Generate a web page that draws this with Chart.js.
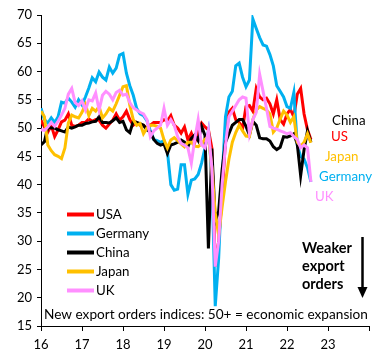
<!DOCTYPE html>
<html><head><meta charset="utf-8">
<script src="https://cdn.jsdelivr.net/npm/chart.js@4.4.0/dist/chart.umd.min.js"></script>
<style>html,body{margin:0;padding:0;background:#fff;}canvas{display:block}</style>
</head><body>
<canvas id="c" width="384" height="360"></canvas>
<script>
// Monthly new export orders indices, Jan 2016 .. Aug 2022
const startYear = 16;
const xTickValues = [16, 17, 18, 19, 20, 21, 22, 23, 24];
const yTickValues = [15, 20, 25, 30, 35, 40, 45, 50, 55, 60, 65, 70];

const usa = [51.4,50.2,49.3,50.5,48.5,49.7,51.1,51.4,52.5,50.5,50.3,50.5,
  51,51,51.6,51.2,51.5,51.4,50.5,50,50.7,51.4,52.5,51.4,
  52,53,51.5,50.5,51,50.5,50.5,50,50.5,51,51,51,
  51.5,51.3,52.2,50.5,50,49.1,50.2,47.9,49.1,47.5,49.5,50.9,
  50.2,49.7,46.5,25.5,30,38,48,52.8,53.5,51.5,51,50,
  53.8,54,53,57,55.5,55,55.3,54.3,52.5,55,51.5,50.7,
  52.5,53.3,52,56,57,52.5,49.7,48];
const germany = [53.5,51.5,50.9,51.8,51,52,54.6,54.4,55.3,54.6,53.7,55,
  54.1,55.5,57.1,58.9,58.2,59.9,59,58.5,60.8,59.7,60.6,62.9,
  63.2,59.7,57.5,55.8,53.5,52.5,52.2,51.3,49.5,48,47.8,47.5,
  47.8,45.8,40,39,39.2,43.5,43.5,38.3,40.8,41,41.8,43.8,
  46.5,49.5,42,18.5,27,41,52,55.5,56.5,61,61.5,59,
  57.3,58.5,69.3,67.6,66,64.7,64.5,63,61,57.5,
  56.5,55.5,53.8,53.5,56.3,47,45,44.5,43,40.5];
const china = [47,47.6,50.2,50,50,49.7,49.5,49.3,50.2,50,50.2,50.5,
  50.5,50.8,50.9,51.1,51.2,52,51,51,50.9,51.3,51.8,51,
  51.2,49.7,49.2,51.2,51,50.8,50.5,49.7,49.3,48,47.3,47,
  47.2,45.5,47,47.2,47.5,47.9,47.5,46.7,48.2,48.8,47.8,50.3,
  48.7,28.7,46.4,33.5,35.3,42.6,47.5,49,50.5,51,51.5,51.5,
  50.3,48.8,51.2,50.5,48.3,48.1,48.1,47.7,46.7,46.2,46.6,48.5,
  48.4,48.6,49,47.2,41.6,46.2,49.5,47.5];
const japan = [53,52,47,46,45.3,45,44.6,46.5,50.9,52.3,52,51.8,
  52.8,54.2,52.2,53.5,53,53.8,51.8,52.5,53.5,53,54.3,55.8,
  57.3,57.5,54,51.5,50.5,50.8,49,50,50.5,50.5,50.3,50,
  47.9,46.5,47.9,48.3,47.8,47.2,46.7,47.5,47.5,46.8,46.7,47.2,
  48,48.5,43,35,31,36,40.5,44.5,47.5,49.2,50.5,49.5,
  48.6,48.5,51.5,53.2,53.8,53.5,53.2,52.5,49.3,50,51.6,53,
  52.3,51,52,47.5,46.8,47.5,49,47.4];
const uk = [49.7,49.6,50.2,51,50.3,51.2,52.3,53.5,56,57,54.5,54,
  54.8,53.2,55,54.8,56.2,53.2,55.8,56.5,56,55,56.3,56.7,
  55.8,56,54.5,53.6,53.2,52.8,52.5,51.5,48.5,49.5,50,50.5,
  53.5,50.5,51.5,50.5,48.5,47.3,47,46.5,43.8,48,51.5,47,
  46.5,49.5,43,25.5,30,40,47,52,53,54,55,55.5,
  55.3,49,51.5,52.8,59.5,56.5,53.5,50.3,50,49.8,49.5,49.3,
  49,49.2,48.5,48,46.5,47,46.5,40.5];

const legendNames = ['USA', 'Germany', 'China', 'Japan', 'UK'];
const endLabels = ['China', 'US', 'Japan', 'Germany', 'UK'];
const noteText = 'New export orders indices: 50+ = economic expansion';
const arrowText = ['Weaker', 'export', 'orders'];

const COLORS = {USA:'#FF0000', Germany:'#00B0F0', China:'#000000', Japan:'#FFC000', UK:'#FF8FFF'};
const FONT = 'Lato, "Open Sans", sans-serif';

function toPoints(arr){ return arr.map((v,i)=>({x: startYear + i/12, y: v})); }

const series = [usa, germany, china, japan, uk];
const datasets = series.map((arr, i) => ({
  label: legendNames[i],
  data: toPoints(arr),
  borderColor: COLORS[legendNames[i]],
  backgroundColor: COLORS[legendNames[i]],
  borderWidth: 3,
  pointRadius: 0,
  tension: 0,
  fill: false,
  order: 5 - i
}));

const annot = {
  id: 'annot',
  afterDraw(chart){
    const ctx = chart.ctx, a = chart.chartArea;
    ctx.save();
    // legend
    ctx.font = '13.3px ' + FONT;
    ctx.textBaseline = 'middle';
    ctx.textAlign = 'left';
    legendNames.forEach((n, i) => {
      const y = 214.5 + i * 19;
      ctx.strokeStyle = COLORS[n];
      ctx.lineWidth = 4;
      ctx.beginPath(); ctx.moveTo(67, y); ctx.lineTo(94, y); ctx.stroke();
      ctx.fillStyle = '#000';
      ctx.fillText(n, 96, y);
    });
    // end labels
    const endPos = [[332,121,'China'],[331,137,'USA'],[325,157,'Japan'],[319,177,'Germany'],[315,197,'UK']];
    endLabels.forEach((t, i) => {
      const p = endPos[i];
      ctx.fillStyle = COLORS[p[2]];
      ctx.fillText(t, p[0], p[1]);
    });
    // weaker export orders
    ctx.font = 'bold 14.5px ' + FONT;
    ctx.fillStyle = '#000';
    arrowText.forEach((t, i) => ctx.fillText(t, 302, 248 + i * 18.3));
    // arrow
    ctx.strokeStyle = '#000'; ctx.lineWidth = 2.5;
    ctx.beginPath(); ctx.moveTo(362.5, 237); ctx.lineTo(362.5, 289); ctx.stroke();
    ctx.beginPath(); ctx.moveTo(357.5, 287); ctx.lineTo(367.5, 287); ctx.lineTo(362.5, 298); ctx.closePath();
    ctx.fillStyle = '#000'; ctx.fill();
    // note
    let fs = 15;
    ctx.font = fs + 'px ' + FONT;
    const w = ctx.measureText(noteText).width;
    fs = fs * 324 / w;
    ctx.font = fs.toFixed(2) + 'px ' + FONT;
    ctx.fillText(noteText, 44, 315);
    ctx.restore();
  }
};

new Chart(document.getElementById('c'), {
  type: 'line',
  data: { datasets },
  options: {
    responsive: false,
    animation: false,
    layout: { padding: { top: 15, right: 15, left: 0, bottom: 0 } },
    plugins: { legend: { display: false }, tooltip: { enabled: false } },
    scales: {
      x: {
        type: 'linear', min: 16, max: 24,
        afterBuildTicks: s => { s.ticks = xTickValues.map(v => ({ value: v })); },
        ticks: { callback: v => (v === 24 ? '' : String(v)), font: { family: FONT, size: 13 }, color: '#000', padding: 6, maxRotation: 0, autoSkip: false },
        grid: { display: true, drawOnChartArea: false, drawTicks: true, tickLength: 5, color: '#000' },
        border: { display: true, color: '#000', width: 1 },
        afterFit: s => { s.height = 34; }
      },
      y: {
        min: 15, max: 70,
        afterBuildTicks: s => { s.ticks = yTickValues.map(v => ({ value: v })); },
        ticks: { font: { family: FONT, size: 13 }, color: '#000', padding: 5, autoSkip: false },
        grid: { display: true, drawOnChartArea: false, drawTicks: true, tickLength: 4, color: '#000' },
        border: { display: true, color: '#000', width: 1 },
        afterFit: s => { s.width = 41; }
      }
    }
  },
  plugins: [annot]
});
</script>
</body></html>
